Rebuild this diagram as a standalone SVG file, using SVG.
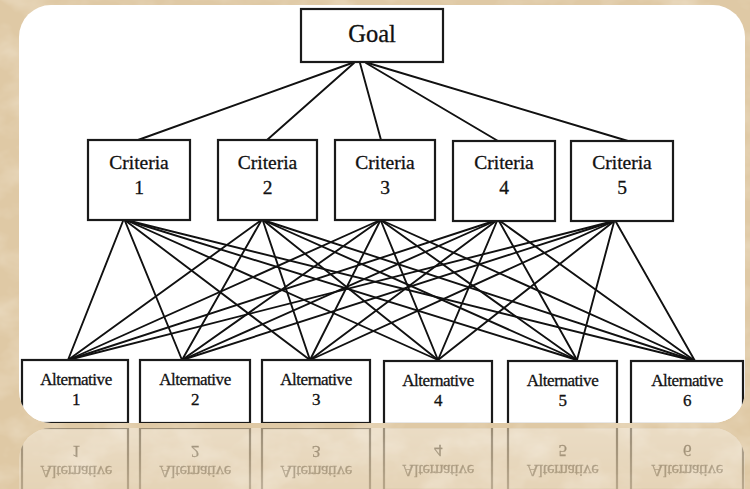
<svg xmlns="http://www.w3.org/2000/svg" xmlns:xlink="http://www.w3.org/1999/xlink" width="750" height="489" viewBox="0 0 750 489">
<defs>
<style>
.box{fill:#fff;stroke:#1a1a1a;stroke-width:2.2}
.t{font-family:"Liberation Serif","Times New Roman",serif;fill:#111;stroke:#111;stroke-width:0.3;text-anchor:middle}
.goal{font-size:24.5px}
.crit{font-size:19.5px}
.alt{font-size:17px;letter-spacing:-0.45px}
#connectors line{stroke:#111;stroke-width:1.9;stroke-linecap:round}
</style>
<filter id="tex" x="0" y="0" width="100%" height="100%">
<feTurbulence type="fractalNoise" baseFrequency="0.02 0.03" numOctaves="4" seed="7" result="n"/>
<feColorMatrix in="n" type="matrix" values="0 0 0 0 0.93  0 0 0 0 0.86  0 0 0 0 0.74  0 0 0 0.9 -0.38"/>
</filter>
<clipPath id="cardClip"><rect x="19" y="5" width="726" height="418" rx="32" ry="32"/></clipPath>
<linearGradient id="fadeG" x1="0" y1="0" x2="0" y2="1">
<stop offset="0" stop-color="#fff" stop-opacity="0.36"/>
<stop offset="1" stop-color="#fff" stop-opacity="0.2"/>
</linearGradient>
<mask id="fade" maskUnits="userSpaceOnUse" x="0" y="424" width="750" height="65">
<rect x="0" y="424" width="750" height="65" fill="url(#fadeG)"/>
</mask>
</defs>
<rect id="bg" x="0" y="0" width="750" height="489" fill="#dfc9a5"/>
<rect x="0" y="0" width="750" height="489" filter="url(#tex)"/>
<g id="diagram" clip-path="url(#cardClip)">
<rect id="card" x="19" y="5" width="726" height="418" fill="#fff"/>
<g id="connectors">
<line x1="352" y1="63" x2="138" y2="140"/>
<line x1="354" y1="63" x2="267" y2="140"/>
<line x1="360" y1="63" x2="381" y2="140"/>
<line x1="366" y1="63" x2="498" y2="141"/>
<line x1="368" y1="63" x2="628" y2="141"/>
<line x1="123" y1="221" x2="68" y2="360"/>
<line x1="125" y1="221" x2="182" y2="360"/>
<line x1="126" y1="221" x2="310" y2="360"/>
<line x1="128" y1="221" x2="438" y2="360"/>
<line x1="129" y1="221" x2="577" y2="360"/>
<line x1="130" y1="221" x2="695" y2="361"/>
<line x1="260" y1="221" x2="68" y2="360"/>
<line x1="261" y1="221" x2="182" y2="360"/>
<line x1="263" y1="221" x2="310" y2="360"/>
<line x1="264" y1="221" x2="438" y2="360"/>
<line x1="265" y1="221" x2="577" y2="360"/>
<line x1="266" y1="221" x2="695" y2="361"/>
<line x1="378" y1="221" x2="68" y2="360"/>
<line x1="379" y1="221" x2="182" y2="360"/>
<line x1="380" y1="221" x2="310" y2="360"/>
<line x1="381" y1="221" x2="438" y2="360"/>
<line x1="382" y1="221" x2="577" y2="360"/>
<line x1="383" y1="221" x2="695" y2="361"/>
<line x1="494" y1="221" x2="68" y2="360"/>
<line x1="495" y1="221" x2="182" y2="360"/>
<line x1="496" y1="221" x2="310" y2="360"/>
<line x1="497" y1="221" x2="438" y2="360"/>
<line x1="499" y1="221" x2="577" y2="360"/>
<line x1="500" y1="221" x2="695" y2="361"/>
<line x1="610" y1="222" x2="68" y2="360"/>
<line x1="611" y1="222" x2="182" y2="360"/>
<line x1="612" y1="222" x2="310" y2="360"/>
<line x1="613" y1="222" x2="438" y2="360"/>
<line x1="614" y1="222" x2="577" y2="360"/>
<line x1="616" y1="222" x2="695" y2="361"/>
</g>
<g id="goal">
<rect class="box" x="301" y="9" width="142" height="53"/>
<text class="t goal" x="372" y="42">Goal</text>
</g>
<g id="criteria1">
<rect class="box" x="88" y="140" width="102" height="80"/>
<text class="t crit" x="139" y="169">Criteria</text>
<text class="t crit" x="139" y="194">1</text>
</g>
<g id="criteria2">
<rect class="box" x="218" y="140" width="99" height="80"/>
<text class="t crit" x="267.5" y="169">Criteria</text>
<text class="t crit" x="267.5" y="194">2</text>
</g>
<g id="criteria3">
<rect class="box" x="335" y="140" width="100" height="80"/>
<text class="t crit" x="385" y="169">Criteria</text>
<text class="t crit" x="385" y="194">3</text>
</g>
<g id="criteria4">
<rect class="box" x="453" y="141" width="102" height="80"/>
<text class="t crit" x="504" y="169">Criteria</text>
<text class="t crit" x="504" y="194">4</text>
</g>
<g id="criteria5">
<rect class="box" x="571" y="141" width="102" height="80"/>
<text class="t crit" x="622" y="169">Criteria</text>
<text class="t crit" x="622" y="194">5</text>
</g>
<g id="alternative1">
<rect class="box" x="22" y="360" width="106" height="63"/>
<text class="t alt" x="76" y="385">Alternative</text>
<text class="t alt" x="76" y="405">1</text>
</g>
<g id="alternative2">
<rect class="box" x="140" y="360" width="110" height="63"/>
<text class="t alt" x="195" y="385">Alternative</text>
<text class="t alt" x="195" y="405">2</text>
</g>
<g id="alternative3">
<rect class="box" x="262" y="360" width="108" height="63"/>
<text class="t alt" x="316" y="385">Alternative</text>
<text class="t alt" x="316" y="405">3</text>
</g>
<g id="alternative4">
<rect class="box" x="384" y="361" width="108" height="63"/>
<text class="t alt" x="438" y="386">Alternative</text>
<text class="t alt" x="438" y="406">4</text>
</g>
<g id="alternative5">
<rect class="box" x="508" y="361" width="109" height="63"/>
<text class="t alt" x="562.5" y="386">Alternative</text>
<text class="t alt" x="562.5" y="406">5</text>
</g>
<g id="alternative6">
<rect class="box" x="631" y="361" width="112" height="63"/>
<text class="t alt" x="687" y="386">Alternative</text>
<text class="t alt" x="687" y="406">6</text>
</g>
</g>
<g id="reflection" mask="url(#fade)">
<use xlink:href="#diagram" href="#diagram" transform="translate(0,851) scale(1,-1)"/>
</g>
</svg>
